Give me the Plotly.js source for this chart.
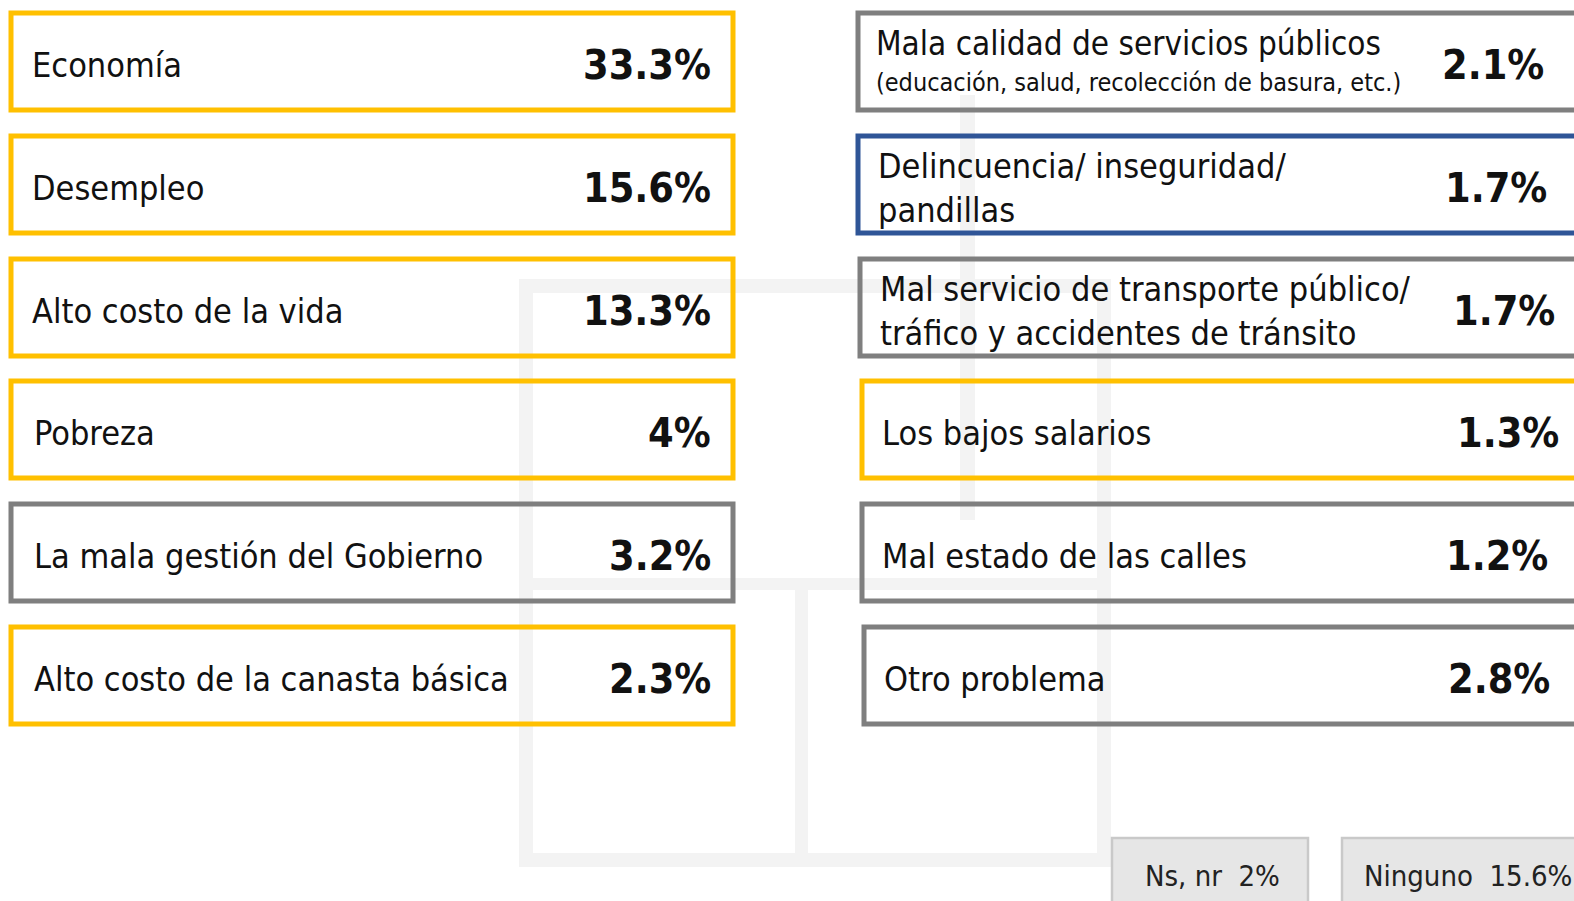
<!DOCTYPE html>
<html>
<head>
<meta charset="utf-8">
<script src="https://cdn.plot.ly/plotly-3.0.1.min.js"></script>
<style>html,body{margin:0;padding:0;background:#fff;}#chart{width:1574px;height:901px;}</style>
</head>
<body>
<div id="chart"></div>
<script>
// ---- data ----
const leftLabels = ["Economía", "Desempleo", "Alto costo de la vida", "Pobreza", "La mala gestión del Gobierno", "Alto costo de la canasta básica"];
const leftValues = [33.3, 15.6, 13.3, 4, 3.2, 2.3];
const leftGroups = ["econ", "econ", "econ", "econ", "gov", "econ"];

const rightLabels = ["Mala calidad de servicios públicos", "Delincuencia/ inseguridad/<br>pandillas", "Mal servicio de transporte público/<br>tráfico y accidentes de tránsito", "Los bajos salarios", "Mal estado de las calles", "Otro problema"];
const rightSubLabels = ["(educación, salud, recolección de basura, etc.)", "", "", "", "", ""];
const rightValues = [2.1, 1.7, 1.7, 1.3, 1.2, 2.8];
const rightGroups = ["gov", "sec", "gov", "econ", "gov", "gov"];

const otherLabels = ["Ns, nr", "Ninguno"];
const otherValues = [2, 15.6];

// ---- styling ----
const groupColor = {econ: "#FFC000", gov: "#7F7F7F", sec: "#2F5597"};
const FONT = "'Liberation Sans Narrow', 'DejaVu Sans Condensed', 'Arial Narrow', sans-serif";
const rowTop = [13, 136, 259, 381, 504, 627];
const boxH = 97;
const leftX = [11, 733];
const rightX0 = [858, 858, 860, 862, 862, 864];
const rightValX = [1546, 1549, 1557, 1561, 1550, 1552];
const fmt = v => (Number.isInteger(v) ? String(v) : v.toFixed(1)) + "%";

const shapes = [];
const annotations = [];

// faint watermark frame
const wm = "#f3f3f3";
shapes.push({type: "rect", xref: "x", yref: "y", x0: 526, x1: 1104, y0: 286, y1: 860, line: {color: wm, width: 14}, layer: "below"});
shapes.push({type: "rect", xref: "x", yref: "y", x0: 960, x1: 975, y0: 95, y1: 520, fillcolor: wm, line: {width: 0}, layer: "below"});
shapes.push({type: "rect", xref: "x", yref: "y", x0: 795, x1: 808, y0: 585, y1: 860, fillcolor: wm, line: {width: 0}, layer: "below"});
shapes.push({type: "rect", xref: "x", yref: "y", x0: 530, x1: 1100, y0: 578, y1: 590, fillcolor: wm, line: {width: 0}, layer: "below"});

leftLabels.forEach((lab, i) => {
  const y0 = rowTop[i], y1 = rowTop[i] + boxH, yc = (y0 + y1) / 2 + 3;
  shapes.push({type: "rect", xref: "x", yref: "y", x0: leftX[0], x1: leftX[1], y0: y0, y1: y1,
    fillcolor: "rgba(255,255,255,0)", line: {color: groupColor[leftGroups[i]], width: 5}});
  annotations.push({xref: "x", yref: "y", x: 30 + (i >= 3 ? 2 : 0), y: yc, text: lab, showarrow: false,
    xanchor: "left", yanchor: "middle", font: {family: FONT, size: 34, color: "#111"}});
  annotations.push({xref: "x", yref: "y", x: 713, y: yc, text: "<b>" + fmt(leftValues[i]) + "</b>", showarrow: false,
    xanchor: "right", yanchor: "middle", font: {family: FONT, size: 41, color: "#111"}});
});

rightLabels.forEach((lab, i) => {
  const y0 = rowTop[i], y1 = rowTop[i] + boxH, yc = (y0 + y1) / 2 + 3;
  shapes.push({type: "rect", xref: "x", yref: "y", x0: rightX0[i], x1: 1620, y0: y0, y1: y1,
    fillcolor: "rgba(255,255,255,0)", line: {color: groupColor[rightGroups[i]], width: 5}});
  if (rightSubLabels[i]) {
    annotations.push({xref: "x", yref: "y", x: 874, y: 43, text: lab, showarrow: false,
      xanchor: "left", yanchor: "middle", font: {family: FONT, size: 33, color: "#111"}});
    annotations.push({xref: "x", yref: "y", x: 874, y: 82, text: rightSubLabels[i], showarrow: false,
      xanchor: "left", yanchor: "middle", font: {family: FONT, size: 25, color: "#111"}});
  } else {
    annotations.push({xref: "x", yref: "y", x: rightX0[i] + 18, y: yc, text: lab, showarrow: false,
      xanchor: "left", yanchor: "middle", align: "left", font: {family: FONT, size: 34, color: "#111"}});
  }
  annotations.push({xref: "x", yref: "y", x: rightValX[i], y: yc, text: "<b>" + fmt(rightValues[i]) + "</b>", showarrow: false,
    xanchor: "right", yanchor: "middle", font: {family: FONT, size: 41, color: "#111"}});
});

// bottom grey boxes
const otherX = [[1112, 1308], [1342, 1620]];
const otherTextX = [1143, 1362];
otherLabels.forEach((lab, i) => {
  shapes.push({type: "rect", xref: "x", yref: "y", x0: otherX[i][0], x1: otherX[i][1], y0: 838, y1: 930,
    fillcolor: "#e6e6e6", line: {color: "#c9c9c9", width: 2.5}});
  annotations.push({xref: "x", yref: "y", x: otherTextX[i], y: 876, text: lab + "  " + fmt(otherValues[i]), showarrow: false,
    xanchor: "left", yanchor: "middle", font: {family: FONT, size: 29, color: "#222"}});
});

const layout = {
  width: 1574, height: 901,
  margin: {l: 0, r: 0, t: 0, b: 0},
  paper_bgcolor: "#fff", plot_bgcolor: "#fff",
  xaxis: {range: [0, 1574], visible: false, fixedrange: true},
  yaxis: {range: [901, 0], visible: false, fixedrange: true},
  showlegend: false,
  shapes: shapes,
  annotations: annotations
};
Plotly.newPlot("chart", [{x: [], y: [], type: "scatter", mode: "markers", hoverinfo: "skip"}], layout, {staticPlot: true, displayModeBar: false});
</script>
</body>
</html>
